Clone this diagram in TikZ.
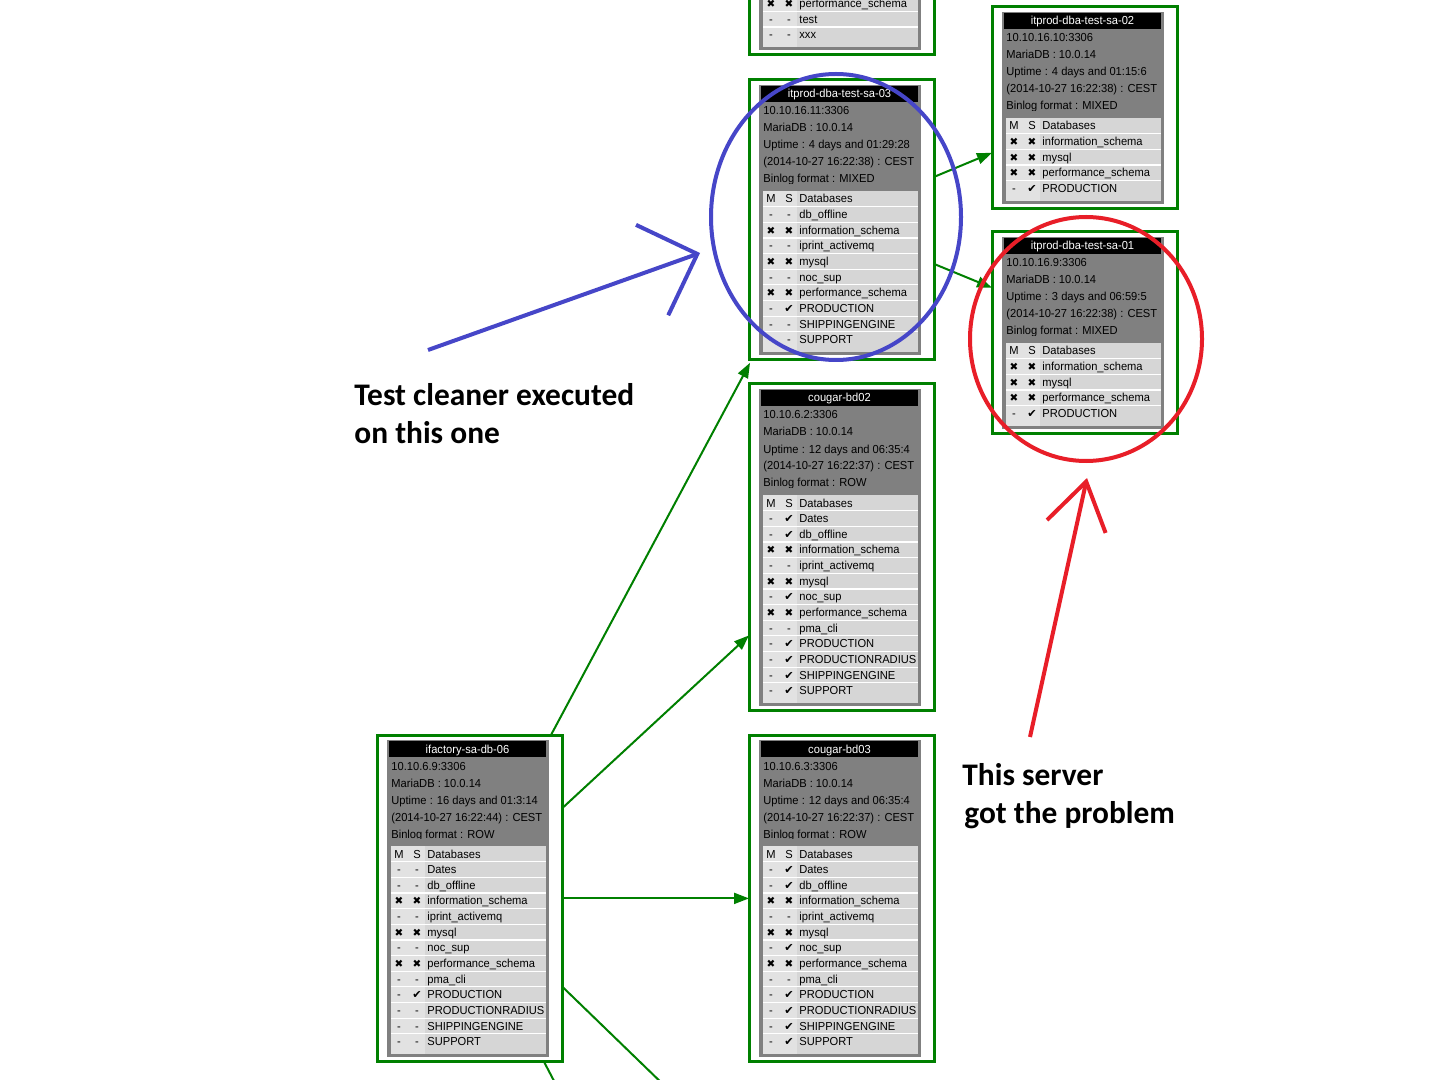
\documentclass[tikz,border=0pt]{standalone}
\usepackage{fontspec}
\setmainfont{Liberation Sans}
\newfontfamily\boxfont{Liberation Sans}[FakeStretch=0.96]
\newfontfamily\symbolfont{DejaVu Sans}
\newfontfamily\notefont{Carlito}
\usepackage{tikz}
\usetikzlibrary{positioning, arrows.meta, calc}
\usepackage{xcolor}
\definecolor{linkgreen}{RGB}{0,128,0}
\definecolor{panelgray}{RGB}{128,128,128}
\definecolor{tablegray}{RGB}{214,214,214}
\definecolor{colgray}{RGB}{226,226,226}
\definecolor{noteblue}{RGB}{70,70,200}
\definecolor{notered}{RGB}{232,30,40}
\tikzset{
    server/.style={
        draw=linkgreen,
        line width=1.5pt,
        inner sep=0pt,
        outer sep=0pt,
        minimum width=92.5pt,
        anchor=north west
    },
    cell/.style={
        anchor=base,
        inner sep=0pt,
        font=\boxfont\fontsize{5.8}{7}\selectfont
    },
    rowline/.style={
        white,
        line width=0.6pt
    },
    link/.style={
        draw=linkgreen,
        line width=1pt,
        -{Triangle[length=7.5pt,width=5.5pt]}
    },
    note/.style={
        font=\notefont\bfseries\fontsize{15.7}{19}\selectfont,
        align=left,
        inner sep=0pt,
        anchor=north west
    }
}

\newcommand{\ticked}{{\symbolfont\fontsize{5.6}{6}\selectfont\char"2714}}
\newcommand{\crossed}{{\symbolfont\fontsize{5.2}{6}\selectfont\char"2716}}
\newcommand{\nodb}{-}

% table rows: name, number of rows, M/S/database list
\newcommand{\dbrows}[3]{%
  \pgfmathsetmacro{\tablebottom}{119+15.65*#2+12}
  \fill[panelgray] (10,104) rectangle (172,\tablebottom+3);
  \fill[tablegray] (14,111) rectangle (169,\tablebottom);
  \fill[colgray] (14,111) rectangle (48,\tablebottom);
  \foreach \m/\s/\d [count=\k] in {#3} {
    \draw[rowline] (14,{111+15.65*\k}) -- (169,{111+15.65*\k});
    \node[cell] (#1-m\k) at (22,{123+15.65*\k}) {\m};
    \node[cell] (#1-s\k) at (40,{123+15.65*\k}) {\s};
    \node[cell,anchor=base west] (#1-d\k) at (50,{123+15.65*\k}) {\d};
  }}

% server box: name, top left, rows, title, info lines, databases
\newcommand{\dbserver}[6]{%
  \begin{scope}[shift={(#2)}]
    \node[server,minimum height={(139+15.65*#3)*0.5pt}] (#1) at (0,0) {};
    \fill[panelgray] (10,5) rectangle (172,104);
    \fill[black] (12,6) rectangle (169,22);
    \node[cell,text=white] (#1-title) at (90.5,18) {#4};
    \foreach \t [count=\k] in {#5}
      \node[cell,anchor=base west] (#1-i\k) at (14,{18+17*\k}) {\t};
    \dbrows{#1}{#3}{#6}
    \node[cell] (#1-hm) at (22,123) {M};
    \node[cell] (#1-hs) at (40,123) {S};
    \node[cell,anchor=base west] (#1-hd) at (50,123) {Databases};
  \end{scope}}

\begin{document}
\begin{tikzpicture}[x=0.5pt,y=-0.5pt]
  \useasboundingbox (0,0) rectangle (1440,1080);
  \clip (0,0) rectangle (1440,1080);
  \fill[white] (0,0) rectangle (1440,1080);

  % servers
  \begin{scope}[shift={(749,-131)}]
    \node[server,minimum height={(139+15.65*3)*0.5pt}] (top) at (0,0) {};
    \dbrows{top}{3}{\crossed/\crossed/performance\_schema, \nodb/\nodb/test, \nodb/\nodb/xxx}
  \end{scope}

  \dbserver{sa3}{749,80}{9}{itprod-dba-test-sa-03}
    {10.10.16.11:3306, MariaDB : 10.0.14, Uptime : 4 days and 01:29:28, {(2014-10-27 16:22:38) : CEST}, Binlog format : MIXED}
    {\nodb/\nodb/db\_offline, \crossed/\crossed/information\_schema, \nodb/\nodb/iprint\_activemq,
     \crossed/\crossed/mysql, \nodb/\nodb/noc\_sup, \crossed/\crossed/performance\_schema,
     \nodb/\ticked/PRODUCTION, \nodb/\nodb/SHIPPINGENGINE, \nodb/\nodb/SUPPORT}

  \dbserver{sa2}{992,7}{4}{itprod-dba-test-sa-02}
    {10.10.16.10:3306, MariaDB : 10.0.14, Uptime : 4 days and 01:15:6, {(2014-10-27 16:22:38) : CEST}, Binlog format : MIXED}
    {\crossed/\crossed/information\_schema, \crossed/\crossed/mysql,
     \crossed/\crossed/performance\_schema, \nodb/\ticked/PRODUCTION}

  \dbserver{sa1}{992,232}{4}{itprod-dba-test-sa-01}
    {10.10.16.9:3306, MariaDB : 10.0.14, Uptime : 3 days and 06:59:5, {(2014-10-27 16:22:38) : CEST}, Binlog format : MIXED}
    {\crossed/\crossed/information\_schema, \crossed/\crossed/mysql,
     \crossed/\crossed/performance\_schema, \nodb/\ticked/PRODUCTION}

  \dbserver{bd02}{749,384}{12}{cougar-bd02}
    {10.10.6.2:3306, MariaDB : 10.0.14, Uptime : 12 days and 06:35:4, {(2014-10-27 16:22:37) : CEST}, Binlog format : ROW}
    {\nodb/\ticked/Dates, \nodb/\ticked/db\_offline, \crossed/\crossed/information\_schema,
     \nodb/\nodb/iprint\_activemq, \crossed/\crossed/mysql, \nodb/\ticked/noc\_sup,
     \crossed/\crossed/performance\_schema, \nodb/\nodb/pma\_cli, \nodb/\ticked/PRODUCTION,
     \nodb/\ticked/PRODUCTIONRADIUS, \nodb/\ticked/SHIPPINGENGINE, \nodb/\ticked/SUPPORT}

  \dbserver{bd03}{749,735}{12}{cougar-bd03}
    {10.10.6.3:3306, MariaDB : 10.0.14, Uptime : 12 days and 06:35:4, {(2014-10-27 16:22:37) : CEST}, Binlog format : ROW}
    {\nodb/\ticked/Dates, \nodb/\ticked/db\_offline, \crossed/\crossed/information\_schema,
     \nodb/\nodb/iprint\_activemq, \crossed/\crossed/mysql, \nodb/\ticked/noc\_sup,
     \crossed/\crossed/performance\_schema, \nodb/\nodb/pma\_cli, \nodb/\ticked/PRODUCTION,
     \nodb/\ticked/PRODUCTIONRADIUS, \nodb/\ticked/SHIPPINGENGINE, \nodb/\ticked/SUPPORT}

  \dbserver{ifac}{377,735}{12}{ifactory-sa-db-06}
    {10.10.6.9:3306, MariaDB : 10.0.14, Uptime : 16 days and 01:3:14, {(2014-10-27 16:22:44) : CEST}, Binlog format : ROW}
    {\nodb/\nodb/Dates, \nodb/\nodb/db\_offline, \crossed/\crossed/information\_schema,
     \nodb/\nodb/iprint\_activemq, \crossed/\crossed/mysql, \nodb/\nodb/noc\_sup,
     \crossed/\crossed/performance\_schema, \nodb/\nodb/pma\_cli, \nodb/\ticked/PRODUCTION,
     \nodb/\nodb/PRODUCTIONRADIUS, \nodb/\nodb/SHIPPINGENGINE, \nodb/\nodb/SUPPORT}

  % replication links
  \coordinate (next1) at (700,1120);
  \coordinate (next2) at (564,1100);
  \draw[link] ($(ifac.north east)+(-11,0)$) -- ($(sa3.south west)+(1,3)$);
  \draw[link] ($(ifac.east)+(0,-90)$) -- ($(bd02.west)+(0,88)$);
  \draw[link] (ifac.east) -- (bd03.west);
  \draw[link] ($(ifac.east)+(0,88)$) -- (next1);
  \draw[link] ($(ifac.south east)+(-18,0)$) -- (next2);
  \draw[link] ($(sa3.east)+(0,-43)$) -- ($(sa2.west)+(0,45)$);
  \draw[link] ($(sa3.east)+(0,44)$) -- ($(sa1.west)+(0,-45)$);

  % notes
  \draw[noteblue,line width=2pt] (836,217) ellipse [x radius=125,y radius=143];
  \draw[notered,line width=2pt] (1086,339) ellipse [x radius=116,y radius=122];
  \node[note] (cleaned) at (354,383) {Test cleaner executed\\on this one};
  \node[note] (problem) at (962,763) {This server\\\hspace{1pt}got the problem};
  \coordinate (blue-start) at (428,350);
  \coordinate (blue-tip) at (700,253);
  \coordinate (red-start) at (1030,737);
  \coordinate (red-tip) at (1087,478);
  \draw[noteblue,line width=2pt,-{Straight Barb[length=24pt,width=48pt]}] (blue-start) -- (blue-tip);
  \draw[notered,line width=2pt,-{Straight Barb[length=23pt,width=30pt]}] (red-start) -- (red-tip);
\end{tikzpicture}
\end{document}
